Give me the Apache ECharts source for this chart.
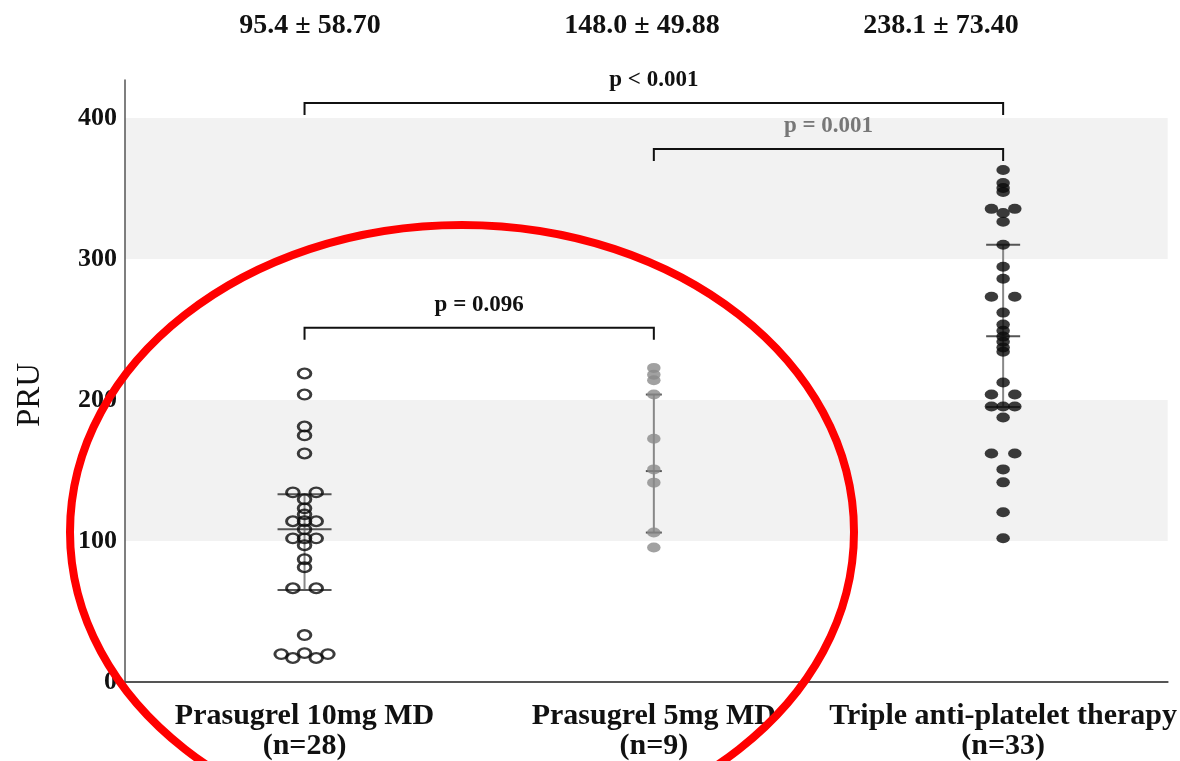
<!DOCTYPE html>
<html><head><meta charset="utf-8">
<script src="https://cdn.jsdelivr.net/npm/echarts@6/dist/echarts.min.js"></script>
<style>html,body{margin:0;padding:0;background:#fff}#c{width:1180px;height:761px}</style>
</head><body><div id="c"></div>
<script>
// ---------------- data ----------------
const categories = ['Prasugrel 10mg MD', 'Prasugrel 5mg MD', 'Triple anti-platelet therapy'];
const sampleSizes = ['(n=28)', '(n=9)', '(n=33)'];
const summaryStats = ['95.4 \u00b1 58.70', '148.0 \u00b1 49.88', '238.1 \u00b1 73.40'];
const pru10mg = [218.8, 203.9, 181.2, 174.9, 162.1, 134.5, 134.5, 129.6, 123.2, 118.9,
  114.0, 114.0, 114.0, 108.3, 101.9, 101.9, 101.9, 97.0, 87.1, 81.4,
  66.5, 66.5, 33.3, 20.5, 19.8, 19.8, 17.0, 17.0];
const pru5mg = [222.8, 218.0, 214.0, 203.9, 172.5, 150.8, 141.4, 106.0, 95.4];
const pruTriple = [363.2, 354.0, 350.4, 347.6, 335.6, 335.6, 332.7, 326.4, 310.1, 294.5,
  286.0, 273.3, 273.3, 262.0, 253.5, 249.2, 245.0, 241.4, 237.2, 234.3,
  212.4, 203.9, 203.9, 195.4, 195.4, 195.4, 187.6, 162.1, 162.1, 150.8,
  141.6, 120.4, 101.9];
const lowerQuartile = [65.3, 106.0, 195.0];
const medianValue = [108.3, 149.6, 245.2];
const upperQuartile = [133.1, 203.9, 310.1];
const comparisonPairs = [[1, 3], [2, 3], [1, 2]];
const comparisonLabels = ['p < 0.001', 'p = 0.001', 'p = 0.096'];
const comparisonLevels = [410.6, 378.0, 251.3];

// ---------------- layout / style constants ----------------
const W = 1180, H = 761;
const GRID = { left: 125, right: 10, top: 80, bottom: 78 };
const Y_MIN = 0, Y_MAX = 427, X_MIN = 0.486, X_MAX = 3.471;
const BIN_UNITS = 4;      // vertical bin used to spread coincident dots
const SLOT_PX = 11.7;     // horizontal spacing of spread dots
const WHISKER_HALF = [27, 8, 17];
const SERIF = '"Liberation Serif", "Times New Roman", "DejaVu Serif", serif';

const pxPerX = (W - GRID.left - GRID.right) / (X_MAX - X_MIN);

function dotLayout(values, groupPos) {
  const bins = {};
  values.forEach(v => {
    const b = Math.floor(v / BIN_UNITS);
    (bins[b] = bins[b] || []).push(v);
  });
  const out = [];
  Object.keys(bins).forEach(k => {
    const arr = bins[k].slice().sort((a, b) => a - b);
    const n = arr.length;
    const slots = [];
    if (n % 2 === 1) slots.push(0);
    for (let s = 1; slots.length < n; s++) { slots.push(-s); if (slots.length < n) slots.push(s); }
    arr.forEach((v, i) => out.push([groupPos + slots[i] * SLOT_PX / pxPerX, v]));
  });
  return out;
}

const chart = echarts.init(document.getElementById('c'), null, { renderer: 'canvas' });

const dotSeries = (data, color, hollow) => ({
  type: 'scatter',
  data: data,
  symbol: 'circle',
  symbolSize: hollow ? [12.6, 9.6] : [13.5, 10],
  z: 4,
  itemStyle: hollow
    ? { color: 'rgba(255,255,255,0)', borderColor: '#0a0a0a', borderWidth: 2.6 }
    : { color: color, borderWidth: 0 },
  emphasis: { disabled: true },
  silent: true
});

const option = {
  animation: false,
  backgroundColor: '#fff',
  grid: { left: GRID.left, right: GRID.right, top: GRID.top, bottom: GRID.bottom, containLabel: false },
  xAxis: {
    type: 'value', min: X_MIN, max: X_MAX,
    axisLine: { show: true, lineStyle: { color: '#555', width: 2 } },
    axisTick: { show: false },
    splitLine: { show: false },
    axisLabel: {
      customValues: [1, 2, 3],
      margin: 19,
      formatter: v => categories[Math.round(v) - 1] + '\n' + sampleSizes[Math.round(v) - 1],
      fontFamily: SERIF, fontWeight: 'bold', fontSize: 30, lineHeight: 30, color: '#111'
    }
  },
  yAxis: {
    type: 'value', min: Y_MIN, max: Y_MAX, interval: 100,
    name: 'PRU', nameLocation: 'middle', nameGap: 78,
    nameTextStyle: { fontFamily: SERIF, fontSize: 33, color: '#111', padding: [0, 28, 0, 0] },
    axisLine: { show: true, lineStyle: { color: '#555', width: 1.5 } },
    axisTick: { show: false },
    splitLine: { show: false },
    splitArea: { show: true, areaStyle: { color: ['rgba(0,0,0,0)', '#f2f2f2'] } },
    axisLabel: { showMaxLabel: false, margin: 8, fontFamily: SERIF, fontWeight: 'bold', fontSize: 26, color: '#111' }
  },
  graphic: [
    ...summaryStats.map((t, i) => ({
      type: 'text', x: [310, 642, 941][i], y: 26, z: 10,
      style: { text: t, fontFamily: SERIF, fontWeight: 'bold', fontSize: 28, fill: '#111', textAlign: 'center', textVerticalAlign: 'middle' }
    })),
    {
      type: 'ellipse', z: 100, silent: true,
      shape: { cx: 462, cy: 532, rx: 392, ry: 307 },
      style: { fill: 'none', stroke: '#ff0000', lineWidth: 8 }
    }
  ],
  series: [
    {
      type: 'custom', z: 2, silent: true,
      data: categories.map((c, i) => [i + 1, lowerQuartile[i], medianValue[i], upperQuartile[i]]),
      encode: { x: 0, y: [1, 2, 3] },
      renderItem: (params, api) => {
        const i = params.dataIndex;
        const x = api.value(0);
        const lo = api.coord([x, api.value(1)]);
        const md = api.coord([x, api.value(2)]);
        const hi = api.coord([x, api.value(3)]);
        const hw = WHISKER_HALF[i];
        const tick = p => ({ type: 'line', shape: { x1: p[0] - hw, y1: p[1], x2: p[0] + hw, y2: p[1] }, style: { stroke: '#555', lineWidth: 2 } });
        return {
          type: 'group', children: [
            { type: 'line', shape: { x1: hi[0], y1: hi[1], x2: lo[0], y2: lo[1] }, style: { stroke: '#888', lineWidth: 2 } },
            tick(lo), tick(md), tick(hi)
          ]
        };
      }
    },
    dotSeries(dotLayout(pru10mg, 1), '#111', true),
    dotSeries(dotLayout(pru5mg, 2), '#8a8a8a', false),
    dotSeries(dotLayout(pruTriple, 3), '#0a0a0a', false),
    {
      type: 'custom', z: 5, silent: true, clip: false,
      data: comparisonPairs.map((p, i) => [p[0], p[1], comparisonLevels[i]]),
      encode: { x: [0, 1], y: 2 },
      renderItem: (params, api) => {
        const i = params.dataIndex;
        const a = api.coord([api.value(0), api.value(2)]);
        const b = api.coord([api.value(1), api.value(2)]);
        const t = 12;
        return {
          type: 'group', children: [
            { type: 'polyline', shape: { points: [[a[0], a[1] + t], [a[0], a[1]], [b[0], b[1]], [b[0], b[1] + t]] }, style: { stroke: '#111', lineWidth: 2, fill: null } },
            { type: 'text', x: (a[0] + b[0]) / 2, y: a[1] - 23,
              style: { text: comparisonLabels[i], fontFamily: SERIF, fontWeight: 'bold', fontSize: 23, fill: i === 1 ? '#777' : '#111', align: 'center', verticalAlign: 'middle' } }
          ]
        };
      }
    }
  ]
};
chart.setOption(option);
</script>
</body></html>
